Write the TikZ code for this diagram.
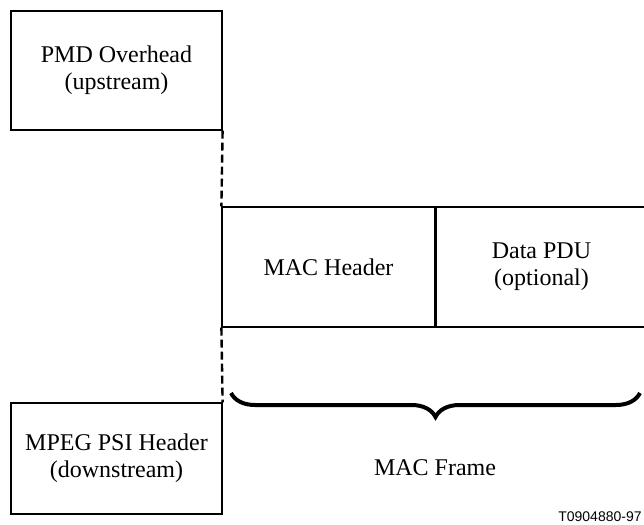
\documentclass[tikz,border=0pt]{standalone}
\usepackage{fontspec}
\setmainfont{Liberation Serif}
\newfontfamily\tagfont{Liberation Sans}
\usetikzlibrary{decorations.pathreplacing}
\tikzset{
  frbox/.style={draw=black, line width=0.6pt, inner sep=0pt, align=center, font=\fontsize{12}{13.5}\selectfont},
  frlink/.style={line width=1.2pt, draw=black, dash pattern=on 4pt off 2pt},
  frsplit/.style={line width=1pt, draw=black},
  frbrace/.style={decorate, decoration={brace, mirror, amplitude=12pt}, line width=2pt},
}

\begin{document}
\begin{tikzpicture}[x=0.5pt, y=-0.5pt]
\useasboundingbox (0,0) rectangle (644,525);
\node[frbox, minimum width=105.5pt, minimum height=59.5pt] (pmd) at (116.5,70.5) {PMD Overhead\\(upstream)};
\node[frbox, minimum width=106.5pt, minimum height=60pt] (hdr) at (328.5,267) {MAC Header};
% right edge of the frame runs off the page
\node[frbox, minimum width=106.5pt, minimum height=60pt] (pdu) at (541.5,267) {Data PDU\\(optional)};
\node[frbox, minimum width=105.5pt, minimum height=55.5pt] (psi) at (116.5,458.5) {MPEG PSI Header\\(downstream)};
\draw[frsplit] (hdr.north east) -- (hdr.south east);
\draw[frlink] (pmd.south east) -- (hdr.north west);
\draw[frlink] (hdr.south west) -- (psi.north east);
\draw[frbrace] (231,393) -- (640,393);
\node[font=\fontsize{12}{13.5}\selectfont] (frame) at (435,468) {MAC Frame};
\node[font=\tagfont\fontsize{7}{8}\selectfont, anchor=base east, inner sep=0pt] (tag) at (642,521) {T0904880-97};
\end{tikzpicture}
\end{document}
